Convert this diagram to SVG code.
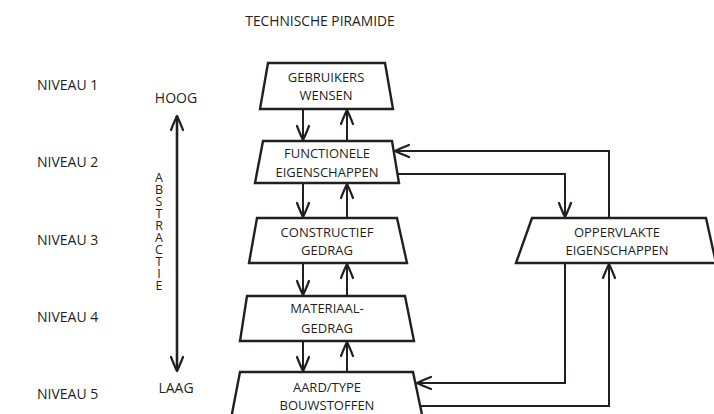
<svg xmlns="http://www.w3.org/2000/svg" width="714" height="414" viewBox="0 0 714 414">
<style>
text{font-family:"Open Sans","Noto Sans","Liberation Sans",sans-serif;font-size:13px;fill:#231f20}
.c{text-anchor:middle}
.lbl{font-size:14px}
.ab{font-size:12.5px}
.node polygon{fill:#fff;stroke:#231f20;stroke-width:2.4;stroke-linejoin:miter}
.conn path{fill:none;stroke:#231f20;stroke-width:2}
.ah{fill:none;stroke:#231f20;stroke-width:2.2;stroke-linecap:round;stroke-linejoin:round}
</style>
<defs>
<marker id="arr" viewBox="-16 -8 18 16" refX="0" refY="0" markerWidth="18" markerHeight="16" markerUnits="userSpaceOnUse" orient="auto-start-reverse">
<path class="ah" d="M-14,-6 Q-5,-2.5 0,0 Q-5,2.5 -14,6"/>
</marker>
</defs>
<rect width="714" height="414" fill="#fff"/>
<text class="c" x="320" y="26" style="font-size:13.8px">TECHNISCHE PIRAMIDE</text>
<g id="levels">
<text class="lbl" x="37" y="90">NIVEAU 1</text>
<text class="lbl" x="37" y="167">NIVEAU 2</text>
<text class="lbl" x="37" y="245">NIVEAU 3</text>
<text class="lbl" x="37" y="322">NIVEAU 4</text>
<text class="lbl" x="37" y="399">NIVEAU 5</text>
</g>
<g id="abstractie">
<text class="c lbl" x="176" y="103">HOOG</text>
<text class="c lbl" x="176" y="393">LAAG</text>
<path d="M177,116 V371" fill="none" stroke="#231f20" stroke-width="2.6" marker-start="url(#arr)" marker-end="url(#arr)"/>
<text class="c ab"><tspan x="159" y="182">A</tspan><tspan x="159" dy="12">B</tspan><tspan x="159" dy="12">S</tspan><tspan x="159" dy="12">T</tspan><tspan x="159" dy="12">R</tspan><tspan x="159" dy="12">A</tspan><tspan x="159" dy="12">C</tspan><tspan x="159" dy="12">T</tspan><tspan x="159" dy="12">I</tspan><tspan x="159" dy="12">E</tspan></text>
</g>
<g id="connectors" class="conn">
<path d="M303,110 V140" marker-end="url(#arr)"/>
<path d="M347,140 V110" marker-end="url(#arr)"/>
<path d="M303,184 V217" marker-end="url(#arr)"/>
<path d="M347,217 V184" marker-end="url(#arr)"/>
<path d="M303,264 V295" marker-end="url(#arr)"/>
<path d="M347,295 V264" marker-end="url(#arr)"/>
<path d="M303,342 V371" marker-end="url(#arr)"/>
<path d="M347,371 V342" marker-end="url(#arr)"/>
<path d="M397,174 H565 V217" marker-end="url(#arr)"/>
<path d="M609,217 V151 H395" marker-end="url(#arr)"/>
<path d="M565,264 V383 H417" marker-end="url(#arr)"/>
<path d="M420,406 H609 V264" marker-end="url(#arr)"/>
</g>
<g id="gebruikers" class="node">
<polygon points="268,63 385,63 393,109 260,109"/>
<text class="c" x="326" y="82">GEBRUIKERS</text>
<text class="c" x="326" y="100">WENSEN</text>
</g>
<g id="functionele" class="node">
<polygon points="263,141 392,141 399,183 255,183"/>
<text class="c" x="327" y="158">FUNCTIONELE</text>
<text class="c" x="327" y="177">EIGENSCHAPPEN</text>
</g>
<g id="constructief" class="node">
<polygon points="257,218 397,218 407,263 249,263"/>
<text class="c" x="327" y="237">CONSTRUCTIEF</text>
<text class="c" x="327" y="255">GEDRAG</text>
</g>
<g id="materiaal" class="node">
<polygon points="247,296 405,296 414,341 240,341"/>
<text class="c" x="327" y="313">MATERIAAL-</text>
<text class="c" x="327" y="333">GEDRAG</text>
</g>
<g id="aard" class="node">
<polygon points="240,372 413,372 424,424 230,424"/>
<text class="c" x="327" y="392">AARD/TYPE</text>
<text class="c" x="327" y="410">BOUWSTOFFEN</text>
</g>
<g id="oppervlakte" class="node">
<polygon points="532,218 706,218 716,263 516,263"/>
<text class="c" x="617" y="237">OPPERVLAKTE</text>
<text class="c" x="617" y="255">EIGENSCHAPPEN</text>
</g>
</svg>
